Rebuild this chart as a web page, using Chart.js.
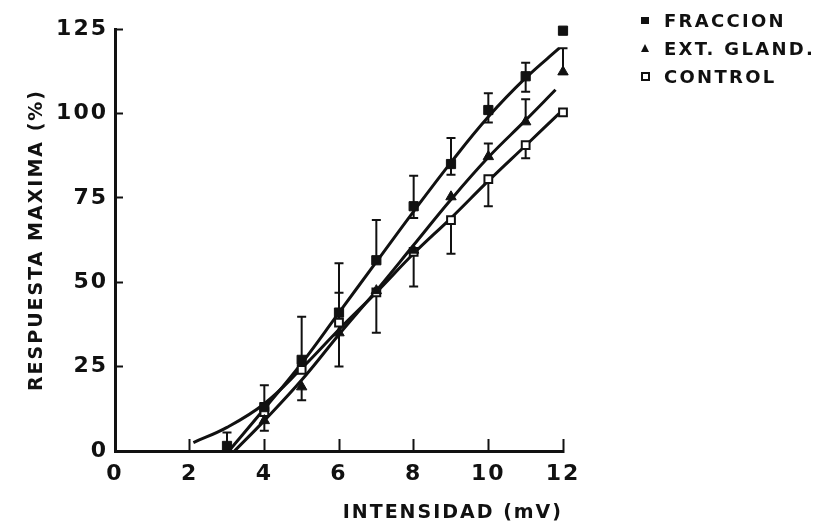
<!DOCTYPE html>
<html>
<head>
<meta charset="utf-8">
<script src="https://cdn.jsdelivr.net/npm/chart.js@4.4.0/dist/chart.umd.min.js"></script>
<style>
html, body { margin: 0; padding: 0; background: #fff; }
#wrap { position: relative; width: 821px; height: 527px; }
#legend { position: absolute; left: 636px; top: 6px; font: bold 18px "DejaVu Sans"; color: #111; letter-spacing: 2.3px; }
#legend .row { height: 28px; display: flex; align-items: center; }
#legend .mk { width: 28px; display: flex; align-items: center; justify-content: flex-start; padding-left: 5px; box-sizing: border-box; }
.sq { width: 8px; height: 7px; background: #111; }
.tri { width: 0; height: 0; border-left: 4px solid transparent; border-right: 4px solid transparent; border-bottom: 8px solid #111; }
.osq { width: 5px; height: 5px; border: 2px solid #111; }
</style>
</head>
<body>
<div id="wrap">
  <canvas id="grafico" width="821" height="527"></canvas>
  <div id="legend">
    <div class="row"><div class="mk"><div class="sq"></div></div>FRACCION</div>
    <div class="row"><div class="mk"><div class="tri"></div></div>EXT. GLAND.</div>
    <div class="row"><div class="mk"><div class="osq"></div></div>CONTROL</div>
  </div>
</div>
<script>
// puntos medidos (media y extremos de las barras de error)
const fraccionX = [3, 4, 5, 6, 7, 8, 9, 10, 11, 12];
const fraccionY = [1.5, 13, 27, 41, 56.5, 72.5, 85, 101, 111, 124.5];
const fraccionHi = [5.5, 19.5, 39.8, 55.6, 68.4, 81.5, 92.7, 106, 115, null];
const fraccionLo = [null, null, null, null, null, 69, 81.8, 97.3, 106.4, null];

const extX = [4, 5, 6, 7, 8, 9, 10, 11, 12];
const extY = [9, 19, 35, 47.5, 59.5, 75.3, 87.2, 97.5, 112.3];
const extHi = [null, null, 46.9, null, null, null, 91.1, 104.2, 119.3];
const extLo = [6, 15, null, null, 48.7, null, null, null, null];

const controlX = [4, 5, 6, 7, 8, 9, 10, 11, 12];
const controlY = [11.5, 24, 38, 47, 59, 68.4, 80.5, 90.6, 100.3];
const controlHi = [null, null, null, null, null, null, null, null, null];
const controlLo = [null, null, 25, 35, null, 58.4, 72.5, 86.7, null];

// curvas ajustadas
const fraccionCurvaX = [3.05, 4, 5, 6, 7, 8, 9, 10, 11, 11.9];
const fraccionCurvaY = [0, 12.5, 26, 41, 56, 71, 85.5, 99, 110.5, 119.3];
const extCurvaX = [3.2, 4, 5, 6, 7, 8, 9, 10, 11, 11.8];
const extCurvaY = [0, 9, 21, 34.5, 47.5, 61, 74.5, 87, 98, 107];
const controlCurvaX = [2.1, 3, 4, 5, 6, 7, 8, 9, 10, 11, 11.9];
const controlCurvaY = [2.5, 7, 14, 24.5, 36, 47, 58.5, 69, 80, 90.5, 100];

const xTicks = [0, 2, 4, 6, 8, 10, 12];
const yTicks = [0, 25, 50, 75, 100, 125];

const pares = (xs, ys) => xs.map((x, i) => ({ x, y: ys[i] }));

const series = [
    { xs: fraccionX, ys: fraccionY, hi: fraccionHi, lo: fraccionLo },
    { xs: extX, ys: extY, hi: extHi, lo: extLo },
    { xs: controlX, ys: controlY, hi: controlHi, lo: controlLo },
];

const errorBars = {
    id: 'errorBars',
    beforeDatasetsDraw(chart) {
        const { ctx, scales: { x, y } } = chart;
        ctx.save();
        ctx.strokeStyle = '#111';
        ctx.lineWidth = 2;
        series.forEach(s => {
            s.xs.forEach((v, i) => {
                [s.hi[i], s.lo[i]].forEach(end => {
                    if (end == null) return;
                    const px = x.getPixelForValue(v);
                    const p0 = y.getPixelForValue(s.ys[i]);
                    const p1 = y.getPixelForValue(end);
                    ctx.beginPath();
                    ctx.moveTo(px, p0); ctx.lineTo(px, p1);
                    ctx.moveTo(px - 4.5, p1); ctx.lineTo(px + 4.5, p1);
                    ctx.stroke();
                });
            });
        });
        ctx.restore();
    }
};

const espaciado = {
    id: 'espaciado',
    beforeDraw(chart) { chart.ctx.letterSpacing = '2px'; }
};

const curva = (xs, ys) => ({
    data: pares(xs, ys), showLine: true, pointRadius: 0, clip: false,
    borderColor: '#111', borderWidth: 3, tension: 0.4
});

const fuenteTicks = { family: 'DejaVu Sans', weight: 'bold', size: 22 };
const fuenteTitulo = { family: 'DejaVu Sans', weight: 'bold', size: 19 };

new Chart(document.getElementById('grafico'), {
    type: 'scatter',
    data: {
        datasets: [
            { label: 'FRACCION', data: pares(fraccionX, fraccionY), clip: false, pointStyle: 'rect', pointRadius: 6.5, backgroundColor: '#111', borderColor: '#111', borderWidth: 1 },
            { label: 'EXT. GLAND.', data: pares(extX, extY), clip: false, pointStyle: 'triangle', pointRadius: 6, backgroundColor: '#111', borderColor: '#111', borderWidth: 1 },
            { label: 'CONTROL', data: pares(controlX, controlY), clip: false, pointStyle: 'rect', pointRadius: 5.5, backgroundColor: '#fff', borderColor: '#111', borderWidth: 2 },
            curva(fraccionCurvaX, fraccionCurvaY),
            curva(extCurvaX, extCurvaY),
            curva(controlCurvaX, controlCurvaY),
        ]
    },
    options: {
        responsive: false,
        animation: false,
        layout: { padding: { left: 0, right: 258, top: 29, bottom: 0 } },
        plugins: { legend: { display: false }, tooltip: { enabled: false } },
        scales: {
            x: {
                type: 'linear', min: 0, max: 12,
                afterBuildTicks: s => { s.ticks = xTicks.map(v => ({ value: v })); },
                afterFit: s => { s.height = 76; },
                ticks: { color: '#111', font: fuenteTicks, padding: 22 },
                grid: { drawOnChartArea: false, tickLength: -12, tickWidth: 2, tickColor: '#111' },
                border: { color: '#111', width: 3 },
                title: { display: true, text: 'INTENSIDAD (mV)', align: 'end', color: '#111', font: fuenteTitulo, padding: { top: 0, bottom: 3 } }
            },
            y: {
                type: 'linear', min: 0, max: 125,
                afterBuildTicks: s => { s.ticks = yTicks.map(v => ({ value: v })); },
                afterFit: s => { s.width = 115; },
                ticks: { color: '#111', font: fuenteTicks, padding: 15 },
                grid: { drawOnChartArea: false, tickLength: -8, tickWidth: 2, tickColor: '#111' },
                border: { color: '#111', width: 3 },
                title: { display: true, text: 'RESPUESTA MAXIMA (%)', color: '#111', font: fuenteTitulo, padding: { top: 26, bottom: 0 } }
            }
        }
    },
    plugins: [errorBars, espaciado]
});
</script>
</body>
</html>
